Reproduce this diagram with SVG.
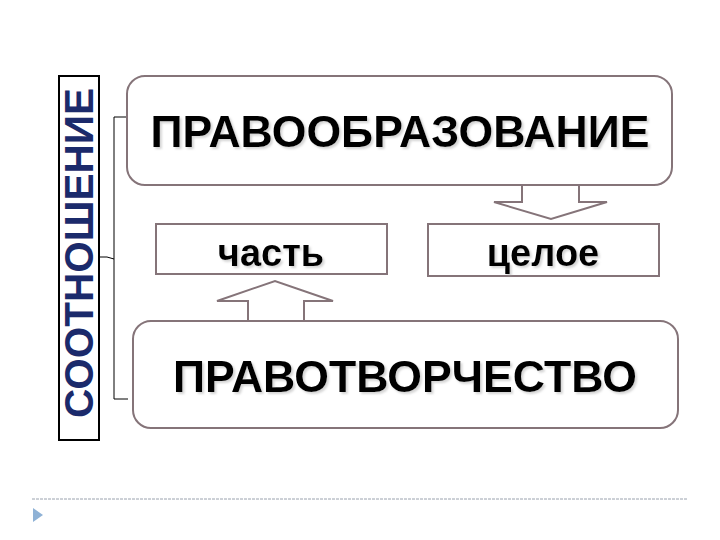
<svg xmlns="http://www.w3.org/2000/svg" width="720" height="540" viewBox="0 0 720 540">
<defs>
<style>
.box{fill:#ffffff;stroke:#857479;stroke-width:2}
.arrow{fill:#ffffff;stroke:#857479;stroke-width:2;stroke-linejoin:miter}
.big{font-family:"Liberation Sans",Arial,sans-serif;font-weight:bold;font-size:44px;fill:#000;text-anchor:middle}
.mid{font-family:"Liberation Sans",Arial,sans-serif;font-weight:bold;font-size:38px;fill:#000;text-anchor:middle}
.brk{fill:none;stroke:#000;stroke-width:1}
</style>
<filter id="sh" x="-10%" y="-20%" width="120%" height="150%">
<feDropShadow dx="2" dy="2" stdDeviation="1" flood-color="#a0a0a0" flood-opacity="0.45"/>
</filter>
</defs>
<rect width="720" height="540" fill="#ffffff"/>
<g id="relation">
<rect x="59" y="76" width="40" height="364" fill="#ffffff" stroke="#000" stroke-width="2"/>
<text transform="translate(93,253) rotate(-90)" font-family="'Liberation Sans',Arial,sans-serif" font-weight="bold" font-size="40" fill="#1b2a6b" text-anchor="middle" textLength="330" lengthAdjust="spacingAndGlyphs">СООТНОШЕНИЕ</text>
</g>
<g id="connectors">
<path class="brk" d="M127,117 H114 V399 H128"/>
<path class="brk" d="M114,259 L107,257 H99"/>
<path class="arrow" d="M522,185 V202 H494 L551,219 L607,202 H579 V185"/>
<path class="arrow" d="M248,321 V301 H217 L275,281 L333,301 H304 V321"/>
</g>
<g id="pravoobrazovanie">
<rect class="box" x="127" y="76" width="545" height="109" rx="18"/>
<text class="big" x="400" y="147" filter="url(#sh)" textLength="499" lengthAdjust="spacingAndGlyphs">ПРАВООБРАЗОВАНИЕ</text>
</g>
<g id="chast">
<rect class="box" x="156" y="224" width="231" height="50"/>
<text class="mid" x="271" y="266" filter="url(#sh)">часть</text>
</g>
<g id="tseloe">
<rect class="box" x="428" y="224" width="231" height="52"/>
<text class="mid" x="543" y="266" filter="url(#sh)">целое</text>
</g>
<g id="pravotvorchestvo">
<rect class="box" x="133" y="321" width="545" height="107" rx="18"/>
<text class="big" x="405" y="392" filter="url(#sh)" textLength="464" lengthAdjust="spacingAndGlyphs">ПРАВОТВОРЧЕСТВО</text>
</g>
<g id="footer">
<line x1="32" y1="499" x2="688" y2="499" stroke="#9aa2ae" stroke-width="1" stroke-dasharray="3,1"/>
<polygon points="33,508 43,515 33,522" fill="#8fb2d6"/>
</g>
</svg>
